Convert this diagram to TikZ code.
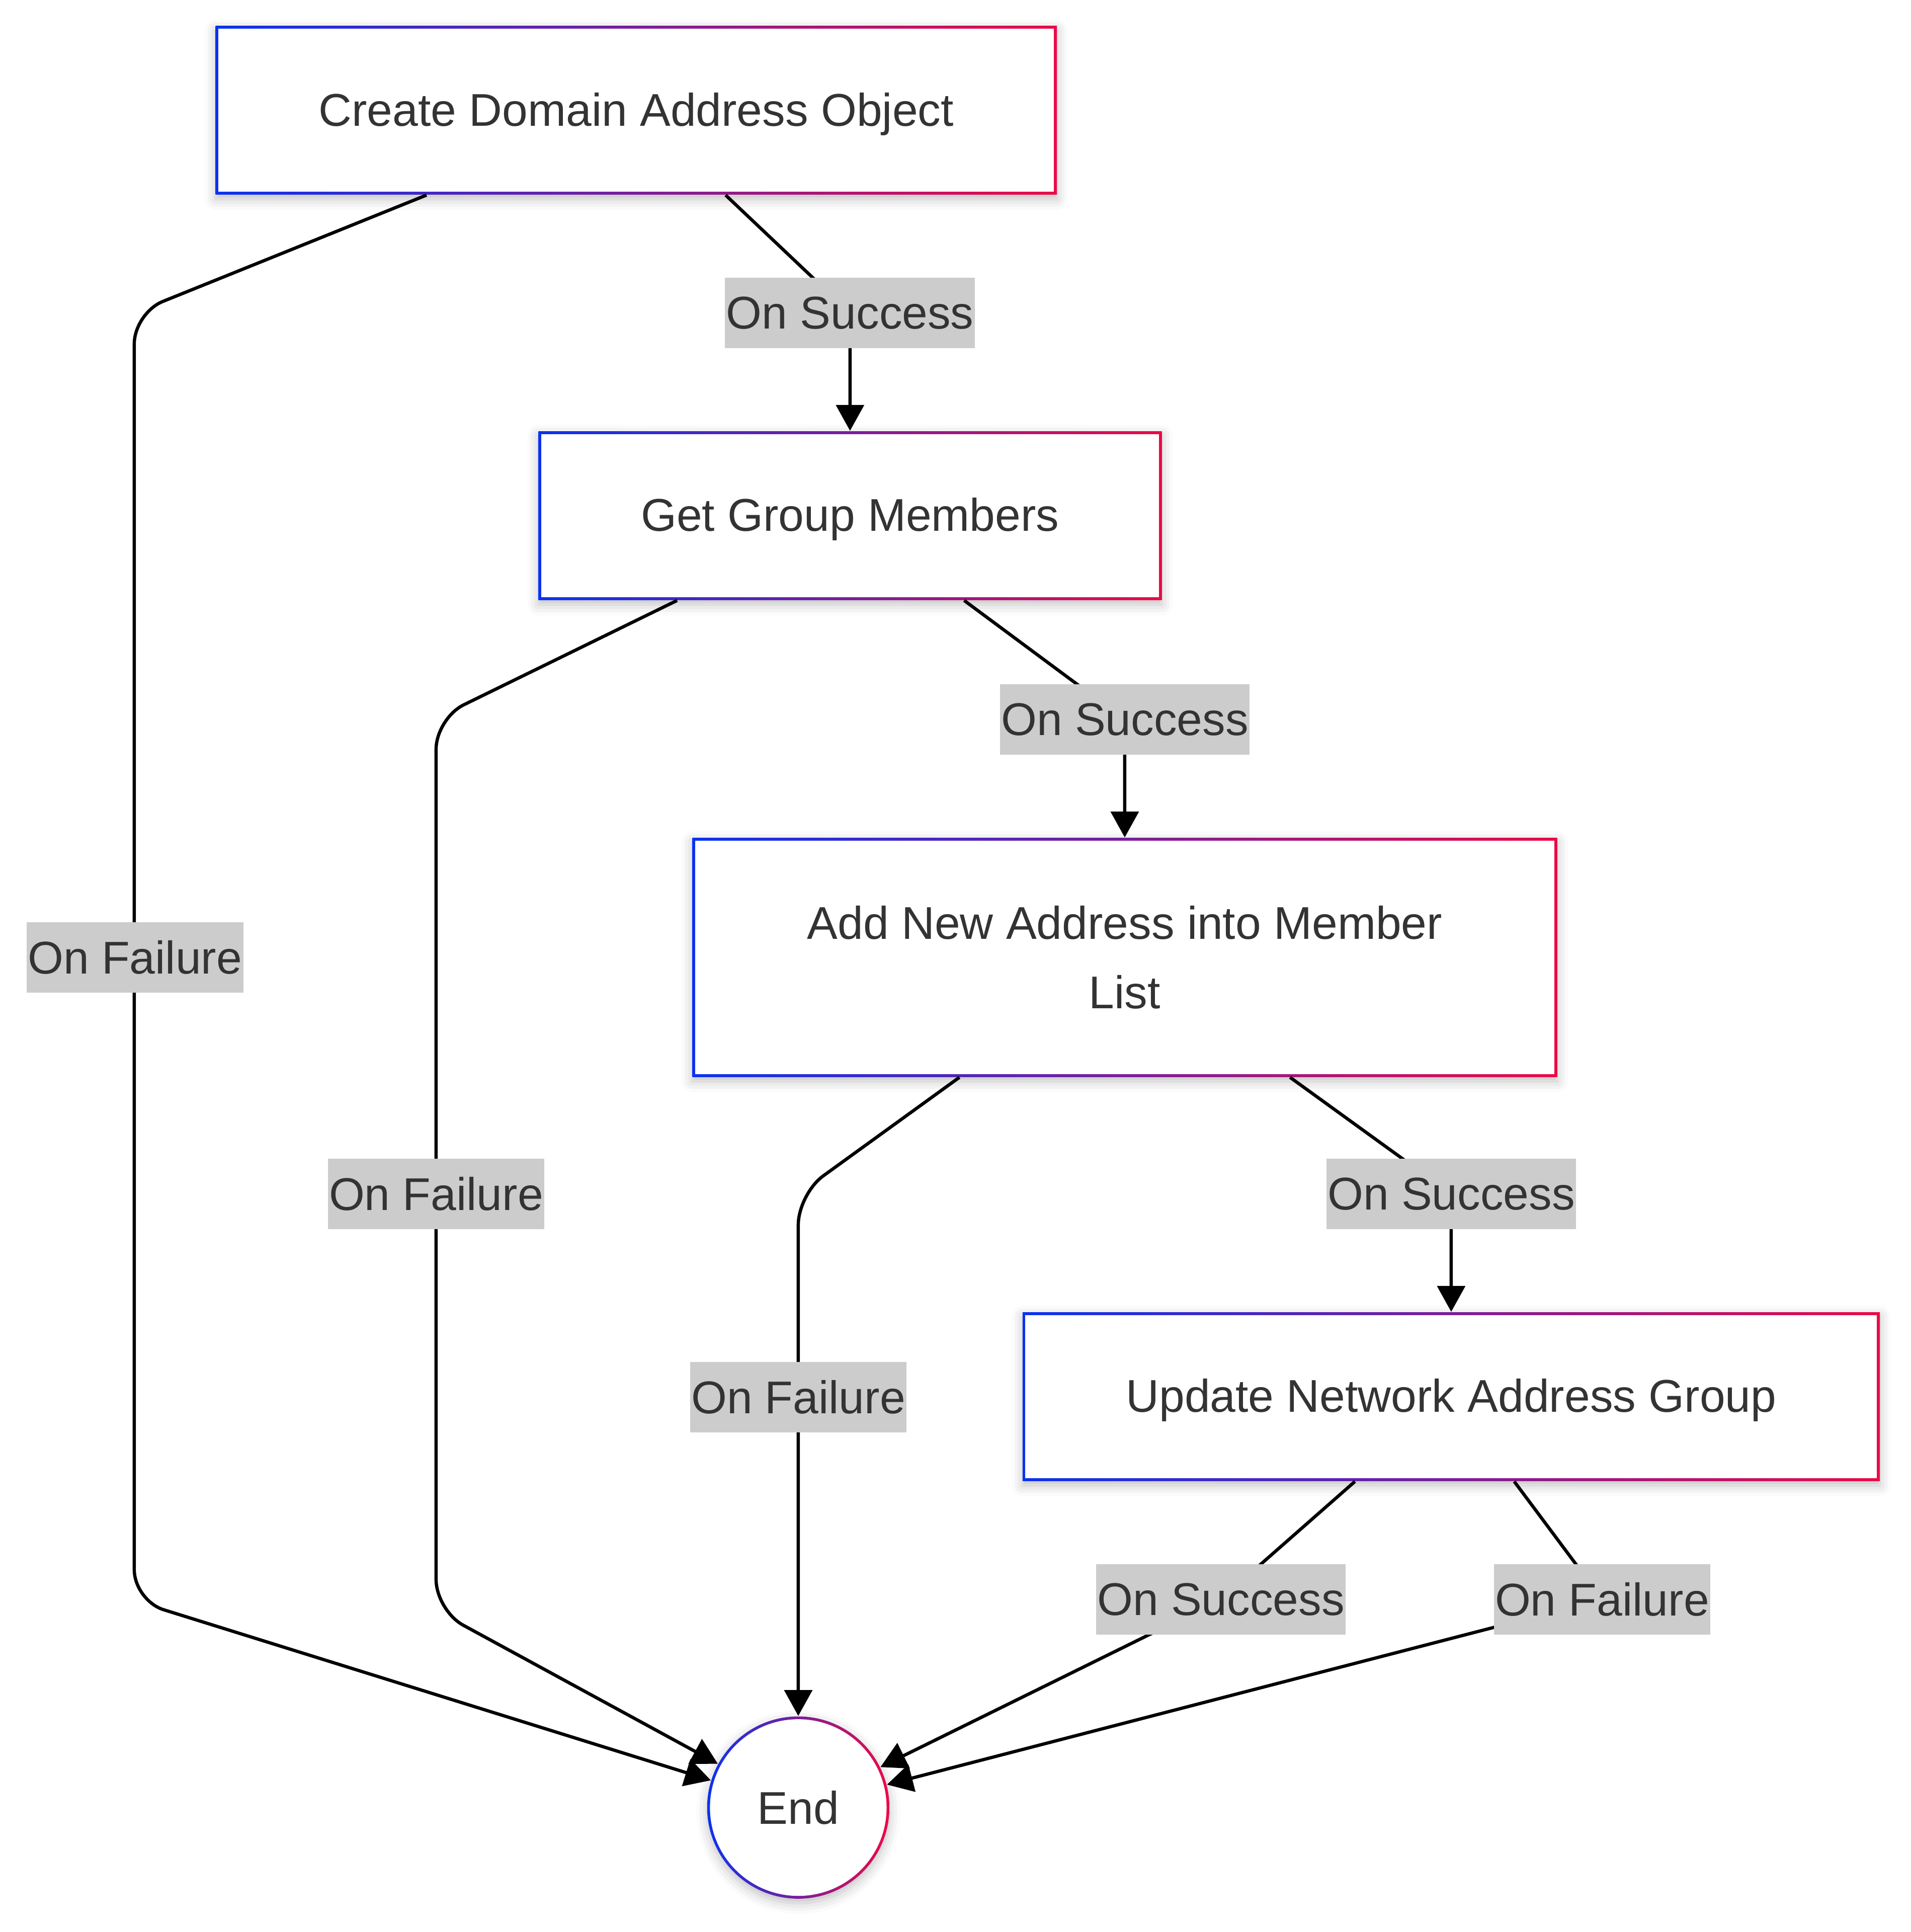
\documentclass[tikz,border=0pt]{standalone}
\usepackage{fontspec}
\setmainfont{Liberation Sans}
\usetikzlibrary{arrows.meta,shadows.blur}
\definecolor{gblue}{RGB}{10,50,240}
\definecolor{gred}{RGB}{235,10,70}
\definecolor{txtgray}{RGB}{51,51,51}
\definecolor{lblgray}{RGB}{204,204,204}

\tikzset{
  stepbox/.style={rectangle, fill=white, text=txtgray, align=center,
    blur shadow={shadow xshift=0pt, shadow yshift=-2pt, shadow blur radius=5pt, shadow opacity=25},
    path picture={
      \shade[left color=gblue, right color=gred] (path picture bounding box.south west) rectangle (path picture bounding box.north east);
      \fill[white] ([shift={(1.3pt,1.3pt)}]path picture bounding box.south west) rectangle ([shift={(-1.3pt,-1.3pt)}]path picture bounding box.north east);
    }},
  oneline/.style={text height=19pt, text depth=4.6pt},
  endcircle/.style={circle, fill=white, text=txtgray, minimum size=2.96cm, inner sep=0pt,
    blur shadow={shadow xshift=0pt, shadow yshift=-2pt, shadow blur radius=5pt, shadow opacity=25},
    path picture={
      \shade[left color=gblue, right color=gred] (path picture bounding box.south west) rectangle (path picture bounding box.north east);
      \fill[white] (path picture bounding box.center) circle (1.434cm);
    }},
  edgelabel/.style={fill=lblgray, text=txtgray, inner xsep=0.02cm, inner ysep=0pt, minimum height=1.14cm},
  flow/.style={line width=1.5pt, rounded corners=0.5cm, ->}
}

\begin{document}
\begin{tikzpicture}[x=0.02cm, y=-0.02cm, >={Triangle[length=0.42cm,width=0.45cm]},
    font=\fontsize{21.2pt}{31.9pt}\selectfont]
  \useasboundingbox (0,0) rectangle (1551,1568);

  % Steps
  \node[stepbox, oneline, minimum width=13.66cm, minimum height=2.74cm] (create) at (516.5,89.5) {Create Domain Address Object};
  \node[stepbox, oneline, minimum width=10.12cm, minimum height=2.74cm] (members) at (690,418.5) {Get Group Members};
  \node[stepbox, minimum width=14.04cm, minimum height=3.88cm] (addlist) at (913,777) {Add New Address into Member\\List};
  \node[stepbox, oneline, minimum width=13.92cm, minimum height=2.74cm] (update) at (1178,1133.5) {Update Network Address Group};
  \node[endcircle] (end) at (648,1467) {End};

  % Connectors
  \draw[flow] (create) -- (690,254) -- (members);
  \draw[flow] (create) -- (109,254) -- (109,1299) -- (end);
  \draw[flow] (members) -- (913,584) -- (addlist);
  \draw[flow] (members) -- (354,583) -- (354,1307) -- (end);
  \draw[flow] (addlist) -- (1178,969) -- (update);
  \draw[flow] (addlist) -- (648,969) -- (end);
  \draw[flow] (update) -- (991,1298) -- (end);
  \draw[flow] (update) -- (1300.5,1298) -- (end);

  % Labels on the connectors
  \node[edgelabel] (succ1) at (690,254) {On Success};
  \node[edgelabel] (fail1) at (109.5,777) {On Failure};
  \node[edgelabel] (succ2) at (913,584) {On Success};
  \node[edgelabel] (fail2) at (354,969) {On Failure};
  \node[edgelabel] (succ3) at (1178,969) {On Success};
  \node[edgelabel] (fail3) at (648,1134) {On Failure};
  \node[edgelabel] (succ4) at (991,1298) {On Success};
  \node[edgelabel] (fail4) at (1300.5,1298) {On Failure};
\end{tikzpicture}
\end{document}
